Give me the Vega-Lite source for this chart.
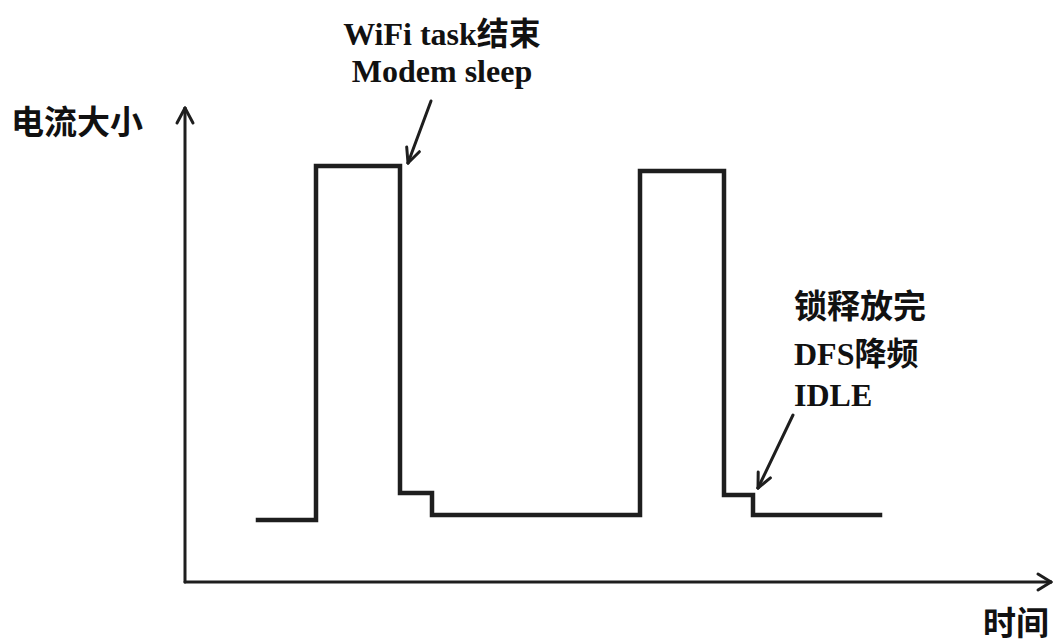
{
  "$schema": "https://vega.github.io/schema/vega-lite/v6.json",
  "width": 1054,
  "height": 644,
  "padding": 0,
  "autosize": {"type": "fit", "contains": "padding"},
  "background": "white",
  "config": {"view": {"stroke": null}},
  "datasets": {
    "trace": [
      {"t": 258, "c": 124},
      {"t": 316, "c": 478},
      {"t": 400, "c": 151},
      {"t": 432, "c": 129},
      {"t": 640, "c": 473},
      {"t": 724, "c": 149},
      {"t": 753, "c": 129},
      {"t": 880, "c": 129}
    ],
    "segs": [
      {"part": "y-axis", "t": 185, "c": 62, "t2": 185, "c2": 536},
      {"part": "y-axis head", "t": 185, "c": 536, "t2": 177, "c2": 521},
      {"part": "y-axis head", "t": 185, "c": 536, "t2": 193, "c2": 521},
      {"part": "x-axis", "t": 185, "c": 62, "t2": 1051, "c2": 62},
      {"part": "x-axis head", "t": 1051, "c": 62, "t2": 1038, "c2": 70},
      {"part": "x-axis head", "t": 1051, "c": 62, "t2": 1038, "c2": 54},
      {"part": "note1", "t": 431, "c": 543, "t2": 408, "c2": 481},
      {"part": "note1 head", "t": 408, "c": 481, "t2": 406.7, "c2": 497},
      {"part": "note1 head", "t": 408, "c": 481, "t2": 419.4, "c2": 492.3},
      {"part": "note2", "t": 793, "c": 229, "t2": 758, "c2": 156},
      {"part": "note2 head", "t": 758, "c": 156, "t2": 758.2, "c2": 172},
      {"part": "note2 head", "t": 758, "c": 156, "t2": 770.4, "c2": 166.1}
    ],
    "notes1": [
      {"label": "WiFi task结束", "t": 442, "c": 599},
      {"label": "Modem sleep", "t": 442, "c": 562}
    ],
    "notes2": [
      {"label": "DFS降频", "t": 794, "c": 279},
      {"label": "IDLE", "t": 794, "c": 238}
    ],
    "sansLeft": [
      {"label": "电流大小", "t": 11, "c": 520},
      {"label": "锁释放完", "t": 794, "c": 336}
    ],
    "sansRight": [
      {"label": "时间", "t": 1049, "c": 19}
    ]
  },
  "layer": [
    {
      "data": {"name": "segs"},
      "mark": {"type": "rule", "color": "#1e1e1e", "strokeWidth": 3, "strokeCap": "round"},
      "encoding": {
        "x": {"field": "t", "type": "quantitative", "scale": {"domain": [0, 1054], "nice": false, "zero": false}, "axis": null},
        "y": {"field": "c", "type": "quantitative", "scale": {"domain": [0, 644], "nice": false, "zero": false}, "axis": null},
        "x2": {"field": "t2"},
        "y2": {"field": "c2"}
      }
    },
    {
      "data": {"name": "trace"},
      "mark": {"type": "line", "interpolate": "step-after", "color": "#1e1e1e", "strokeWidth": 4.5, "strokeJoin": "miter", "strokeCap": "square"},
      "encoding": {
        "x": {"field": "t", "type": "quantitative"},
        "y": {"field": "c", "type": "quantitative"}
      }
    },
    {
      "data": {"name": "notes1"},
      "mark": {"type": "text", "font": "Liberation Serif, Noto Sans CJK SC", "fontWeight": "bold", "fontSize": 32, "align": "center", "baseline": "alphabetic", "color": "#111"},
      "encoding": {
        "x": {"field": "t", "type": "quantitative"},
        "y": {"field": "c", "type": "quantitative"},
        "text": {"field": "label"}
      }
    },
    {
      "data": {"name": "notes2"},
      "mark": {"type": "text", "font": "Liberation Serif, Noto Sans CJK SC", "fontWeight": "bold", "fontSize": 32, "align": "left", "baseline": "alphabetic", "color": "#111"},
      "encoding": {
        "x": {"field": "t", "type": "quantitative"},
        "y": {"field": "c", "type": "quantitative"},
        "text": {"field": "label"}
      }
    },
    {
      "data": {"name": "sansLeft"},
      "mark": {"type": "text", "font": "Noto Sans CJK SC", "fontWeight": "bold", "fontSize": 33, "align": "left", "baseline": "middle", "color": "#111"},
      "encoding": {
        "x": {"field": "t", "type": "quantitative"},
        "y": {"field": "c", "type": "quantitative"},
        "text": {"field": "label"}
      }
    },
    {
      "data": {"name": "sansRight"},
      "mark": {"type": "text", "font": "Noto Sans CJK SC", "fontWeight": "bold", "fontSize": 33, "align": "right", "baseline": "middle", "color": "#111"},
      "encoding": {
        "x": {"field": "t", "type": "quantitative"},
        "y": {"field": "c", "type": "quantitative"},
        "text": {"field": "label"}
      }
    }
  ]
}
